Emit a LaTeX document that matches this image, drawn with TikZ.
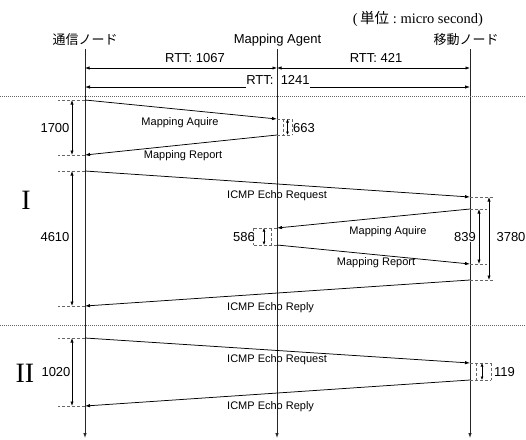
\documentclass[tikz,border=0pt]{standalone}
\usepackage{fontspec}
\setmainfont{Liberation Sans}
\newfontfamily\cjk{Noto Sans CJK JP}
\newfontfamily\serifr{Liberation Serif}
\usetikzlibrary{arrows.meta}
\begin{document}
\begin{tikzpicture}[x=1pt,y=-1pt,
  life/.style={line width=0.8pt,draw=black!85,-{Latex[length=5pt,width=3.5pt]}},
  msg/.style={line width=0.75pt,-{Latex[length=5pt,width=3.5pt]}},
  dimarr/.style={line width=0.6pt,{Latex[length=4.5pt,width=3.2pt]}-{Latex[length=4.5pt,width=3.2pt]}},
  smalldim/.style={line width=0.6pt,{Latex[length=3.5pt,width=3pt]}-{Latex[length=3.5pt,width=3pt]}},
  tickln/.style={draw=black!60,line width=0.6pt,dash pattern=on 3pt off 2pt},
  sepln/.style={draw=black!60,line width=0.6pt,dash pattern=on 1pt off 1pt},
  head/.style={font=\cjk\fontsize{13}{15}\selectfont,inner sep=0pt},
  lbl/.style={font=\fontsize{11}{13}\selectfont,inner sep=0pt},
  num/.style={font=\fontsize{13}{15}\selectfont,inner sep=0pt},
  roman/.style={font=\serifr\fontsize{28}{30}\selectfont,inner sep=0pt}]
\useasboundingbox (0,0) rectangle (526,439);

% headers
\node[font=\fontsize{14.5}{16}\selectfont,inner sep=0pt] (unit) at (418,19) {{\serifr(\,}{\cjk 単位}{\serifr\ :\ micro second)}};
\node[head] (cn) at (85,40) {通信ノード};
\node[font=\fontsize{13}{15}\selectfont,inner sep=0pt] (ma) at (277.5,40) {Mapping Agent};
\node[head] (mn) at (466,40) {移動ノード};

% lifelines
\coordinate (Ltop) at (85,49);  \coordinate (Lend) at (85,438);
\coordinate (Mtop) at (277,49); \coordinate (Mend) at (277,438);
\coordinate (Rtop) at (470,49); \coordinate (Rend) at (470,438);
\draw[life] (Ltop) -- (Lend);
\draw[life] (Mtop) -- (Mend);
\draw[life] (Rtop) -- (Rend);

% RTT
\coordinate (L68) at (85,68); \coordinate (M68) at (277,68); \coordinate (R68) at (470,68);
\coordinate (L87) at (85,87); \coordinate (R87) at (470,87);
\draw[dimarr] (L68) -- (M68);
\draw[dimarr] (M68) -- (R68);
\node[num] (rtt1) at (195,58) {RTT: 1067};
\node[num] (rtt2) at (376,58) {RTT: 421};
\node[num,anchor=base] (rtt3) at (278,84) {RTT:\ \ 1241};
\draw[msg] (rtt3.west |- L87) -- (L87);
\draw[msg] (rtt3.east |- R87) -- (R87);

% separators
\coordinate (s1a) at (0,96.5); \coordinate (s1b) at (526,96.5);
\coordinate (s2a) at (0,325); \coordinate (s2b) at (526,325);
\draw[sepln] (s1a) -- (s1b);
\draw[sepln] (s2a) -- (s2b);

% message points
\coordinate (L100) at (85,100);
\coordinate (M119) at (277,119);
\coordinate (M135) at (277,135);
\coordinate (L155) at (85,155);
\coordinate (L171) at (85,171);
\coordinate (R197) at (470,197);
\coordinate (R209) at (470,209);
\coordinate (M228) at (277,228);
\coordinate (M245) at (277,245);
\coordinate (R264) at (470,264);
\coordinate (R280) at (470,280);
\coordinate (L306) at (85,306);
\coordinate (L338) at (85,338);
\coordinate (R363) at (470,363);
\coordinate (R380) at (470,380);
\coordinate (L406) at (85,406);

% messages
\draw[msg] (L100) -- (M119);
\draw[msg] (M135) -- (L155);
\draw[msg] (L171) -- (R197);
\draw[msg] (R209) -- (M228);
\draw[msg] (M245) -- (R264);
\draw[msg] (R280) -- (L306);
\draw[msg] (L338) -- (R363);
\draw[msg] (R380) -- (L406);

\node[lbl] (t1) at (180,123) {Mapping Aquire};
\node[lbl] (t2) at (183,156) {Mapping Report};
\node[lbl,anchor=west] (t3) at (227,196) {ICMP Echo Request};
\node[lbl] (t4) at (388,232) {Mapping Aquire};
\node[lbl] (t5) at (376,263) {Mapping Report};
\node[lbl,anchor=west] (t6) at (227,308) {ICMP Echo Reply};
\node[lbl,anchor=west] (t7) at (227,360) {ICMP Echo Request};
\node[lbl,anchor=west] (t8) at (227,407) {ICMP Echo Reply};

% left dimensions
\coordinate (dL) at (72,0); \coordinate (tL) at (58,0);
\foreach \p in {L100,L155,L171,L306,L338,L406}{\draw[tickln] (\p) -- (\p -| tL);}
\draw[dimarr] (L100 -| dL) -- (L155 -| dL);
\draw[dimarr] (L171 -| dL) -- (L306 -| dL);
\draw[dimarr] (L338 -| dL) -- (L406 -| dL);
\node[num] (d1700) at (55,128) {1700};
\node[num] (d4610) at (55,237) {4610};
\node[num] (d1020) at (56,372) {1020};
\node[roman] (rI) at (26,200) {I};
\node[roman] (rII) at (25,373) {II};

% 663
\coordinate (b663a) at (283,119); \coordinate (b663b) at (292,135); \coordinate (a663) at (287.5,0);
\draw[tickln] (M119) -- (b663a -| b663b);
\draw[tickln] (M135) -- (b663b);
\draw[tickln] (b663a) -- (b663a |- b663b);
\draw[tickln] (b663a -| b663b) -- (b663b);
\draw[smalldim] (M119 -| a663) -- (M135 -| a663);
\node[num,anchor=west] (d663) at (293,128) {663};

% 586
\coordinate (b586a) at (253,228); \coordinate (b586b) at (271,245); \coordinate (a586) at (264,0);
\draw[tickln] (M228) -- (b586a);
\draw[tickln] (M245) -- (b586a |- b586b);
\draw[tickln] (b586a) -- (b586a |- b586b);
\draw[tickln] (b586a -| b586b) -- (b586b);
\draw[smalldim] (M228 -| a586) -- (M245 -| a586);
\node[num,anchor=east] (d586) at (255,237) {586};

% right dimensions
\coordinate (dR1) at (479,0); \coordinate (dR2) at (489,0);
\coordinate (tR1) at (487,0); \coordinate (tR2) at (493,0);
\draw[tickln] (R197) -- (R197 -| tR2);
\draw[tickln] (R209) -- (R209 -| tR1);
\draw[tickln] (R264) -- (R264 -| tR1);
\draw[tickln] (R280) -- (R280 -| tR2);
\draw[dimarr] (R209 -| dR1) -- (R264 -| dR1);
\draw[dimarr] (R197 -| dR2) -- (R280 -| dR2);
\node[num,fill=white,inner sep=0.5pt] (d839) at (465,237) {839};
\node[num] (d3780) at (511,237) {3780};

% 119
\coordinate (b119a) at (476,363); \coordinate (b119b) at (491,380); \coordinate (a119) at (482,0);
\draw[tickln] (R363) -- (b119a -| b119b);
\draw[tickln] (R380) -- (b119b);
\draw[tickln] (b119a) -- (b119a |- b119b);
\draw[tickln] (b119a -| b119b) -- (b119b);
\draw[smalldim] (R363 -| a119) -- (R380 -| a119);
\node[num,anchor=west] (d119) at (494,372) {119};
\end{tikzpicture}
\end{document}
